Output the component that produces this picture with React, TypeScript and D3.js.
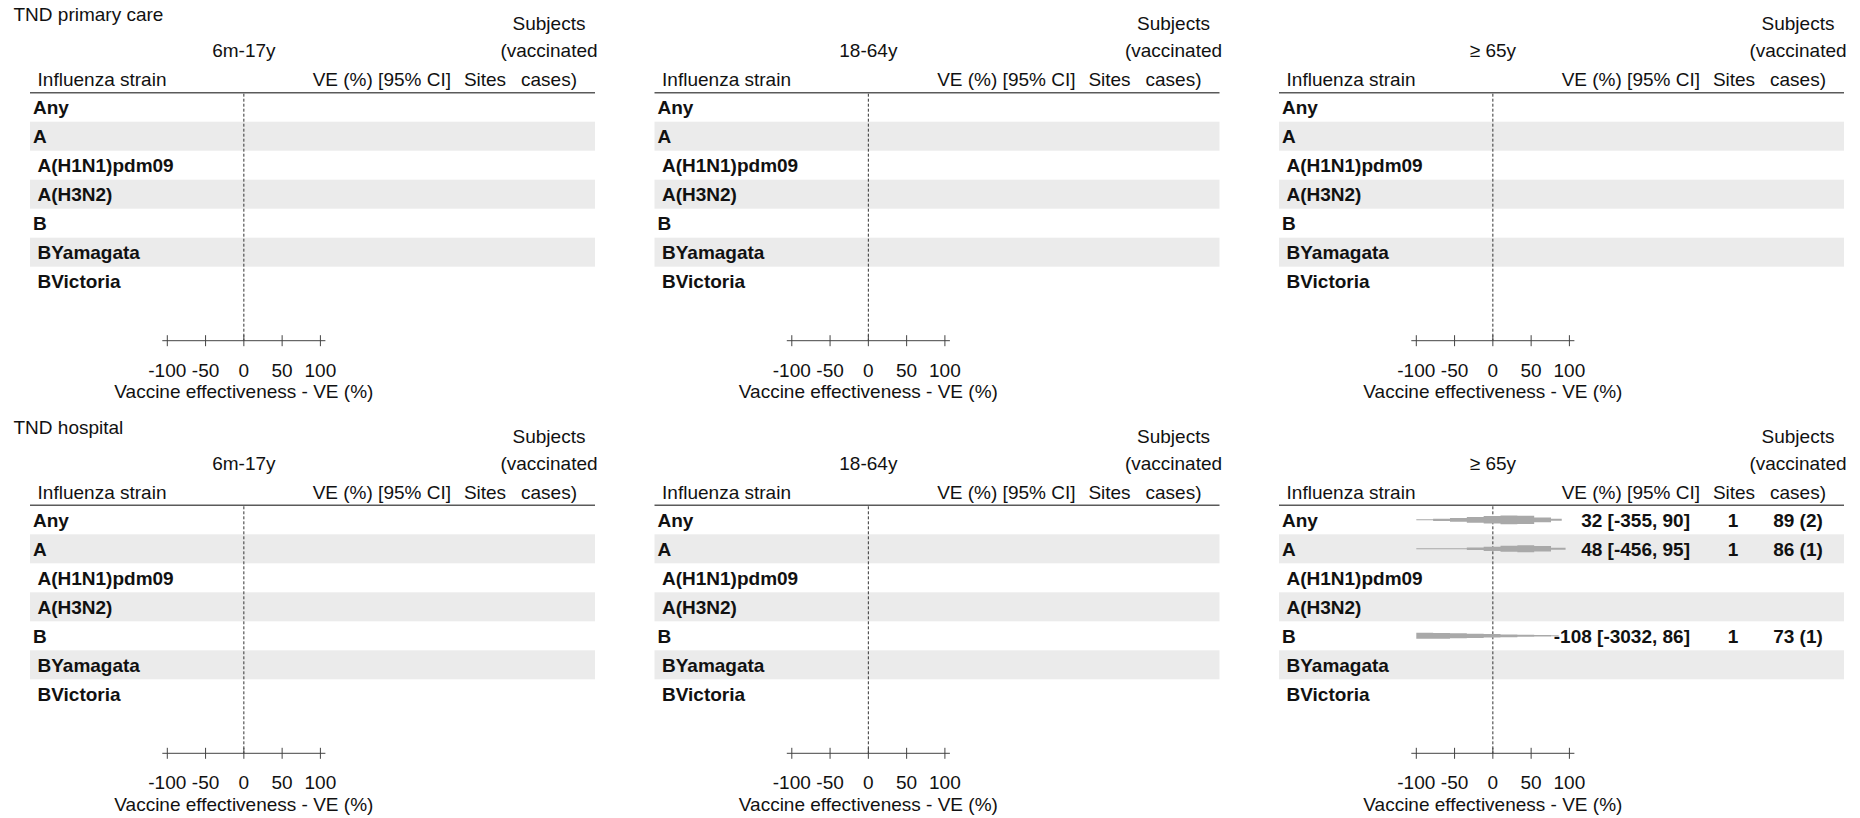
import React from "react";
import * as d3 from "d3";

// ---- data ----
const sectionTitles = ["TND primary care", "TND hospital"];
const ageGroups = ["6m-17y", "18-64y", "≥ 65y"];
const strains = ["Any", "A", "A(H1N1)pdm09", "A(H3N2)", "B", "BYamagata", "BVictoria"];
const strainIndent = [false, false, true, true, false, true, true];
const axisTicks = [-100, -50, 0, 50, 100];

// estimates only available for TND hospital, ≥ 65y
const estStrains = ["Any", "A", "B"];
const estVE = [32, 48, -108];
const estLower = [-355, -456, -3032];
const estUpper = [90, 95, 86];
const estSites = [1, 1, 1];
const estSubjects = [89, 86, 73];
const estVaccinated = [2, 1, 1];

// ---- layout ----
const W = 1860;
const H = 818;
const colOffsets = [0, 624.5, 1249];
const rowOffsets = [0, 412.6];
const FONT = "'Liberation Sans', Arial, Helvetica, sans-serif";
const FS = 19;
const headerY = 92.7;
const rowH = 29;
const tableX0 = 30;
const tableX1 = 595;
const axisY = 340.7;

const x = d3.scaleLinear().domain([-100, 100]).range([167.3, 320.4]);

function barPath(ve: number, lo: number, hi: number, cy: number) {
  const se = (Math.log(1 - lo / 100) - Math.log(1 - hi / 100)) / 3.92;
  const peak = 8.6 / se;
  const sR = (hi - ve) / 1.96;
  const sL = 2 * sR;
  const step = 22;
  const pts: number[] = [];
  for (let v = -100; v < hi; v += step) pts.push(v);
  pts.push(hi);
  const data: { v: number; t: number }[] = [];
  for (let i = 0; i < pts.length - 1; i++) {
    const mid = (pts[i] + pts[i + 1]) / 2;
    const s = mid < ve ? sL : sR;
    const t = Math.max(1, peak * Math.exp(-0.5 * Math.pow((mid - ve) / s, 2)));
    data.push({ v: pts[i], t });
  }
  data.push({ v: hi, t: data[data.length - 1].t });
  const area = d3
    .area<{ v: number; t: number }>()
    .x((d) => x(d.v))
    .y0((d) => cy - d.t / 2)
    .y1((d) => cy + d.t / 2)
    .curve(d3.curveStepAfter);
  return area(data) || "";
}

function Panel({ col, row }: { col: number; row: number }) {
  const ox = colOffsets[col];
  const oy = rowOffsets[row];
  const hasData = row === 1 && col === 2;
  return (
    <g transform={`translate(${ox},${oy})`} fontFamily={FONT} fontSize={FS}>
      {col === 0 && (
        <text x={13.5} y={21} fill="#111">
          {sectionTitles[row]}
        </text>
      )}
      <text x={549} y={30} textAnchor="middle" fill="#111">Subjects</text>
      <text x={x(0)} y={57} textAnchor="middle" fill="#111">{ageGroups[col]}</text>
      <text x={549} y={57} textAnchor="middle" fill="#111">(vaccinated</text>
      <text x={37.6} y={86} fill="#111">Influenza strain</text>
      <text x={451} y={86} textAnchor="end" fill="#111">VE (%) [95% CI]</text>
      <text x={485} y={86} textAnchor="middle" fill="#111">Sites</text>
      <text x={549} y={86} textAnchor="middle" fill="#111">cases)</text>
      {strains.map((s, i) =>
        i % 2 === 1 ? (
          <rect key={"bg" + s} x={tableX0} y={headerY + i * rowH} width={tableX1 - tableX0} height={rowH} fill="#EBEBEB" />
        ) : null
      )}
      <line x1={tableX0} x2={tableX1} y1={headerY} y2={headerY} stroke="#5a5a5a" strokeWidth={1.6} />
      <line x1={x(0)} x2={x(0)} y1={headerY + 1} y2={axisY} stroke="#333" strokeWidth={1} strokeDasharray="3,2" />
      {strains.map((s, i) => (
        <text
          key={"lab" + s}
          x={strainIndent[i] ? 37.5 : 33}
          y={headerY + i * rowH + rowH / 2 + 7}
          fontWeight="bold"
          fill="#111"
        >
          {s}
        </text>
      ))}
      {hasData &&
        estStrains.map((s, k) => {
          const i = strains.indexOf(s);
          const cy = headerY + i * rowH + rowH / 2;
          return (
            <g key={"est" + s}>
              <path d={barPath(estVE[k], estLower[k], estUpper[k], cy)} fill="#A9A9A9" />
              <text x={441} y={cy + 7} textAnchor="end" fontWeight="bold" fill="#111">
                {`${estVE[k]} [${estLower[k]}, ${estUpper[k]}]`}
              </text>
              <text x={484} y={cy + 7} textAnchor="middle" fontWeight="bold" fill="#111">
                {estSites[k]}
              </text>
              <text x={549} y={cy + 7} textAnchor="middle" fontWeight="bold" fill="#111">
                {`${estSubjects[k]} (${estVaccinated[k]})`}
              </text>
            </g>
          );
        })}
      <line x1={x(-100) - 5} x2={x(100) + 5} y1={axisY} y2={axisY} stroke="#444" strokeWidth={1} />
      {axisTicks.map((t) => (
        <g key={"t" + t}>
          <line x1={x(t)} x2={x(t)} y1={axisY - 5.5} y2={axisY + 5.5} stroke="#444" strokeWidth={1} />
          <text x={x(t)} y={376.7} textAnchor="middle" fill="#111">
            {t}
          </text>
        </g>
      ))}
      <text x={x(0)} y={398.3} textAnchor="middle" fill="#111">
        Vaccine effectiveness - VE (%)
      </text>
    </g>
  );
}

export default function App() {
  return (
    <div style={{ position: "fixed", left: 0, top: 0 }}>
      <svg width={W} height={H} style={{ display: "block", background: "#fff" }}>
        {[0, 1].map((r) => [0, 1, 2].map((c) => <Panel key={`${r}-${c}`} col={c} row={r} />))}
      </svg>
    </div>
  );
}
